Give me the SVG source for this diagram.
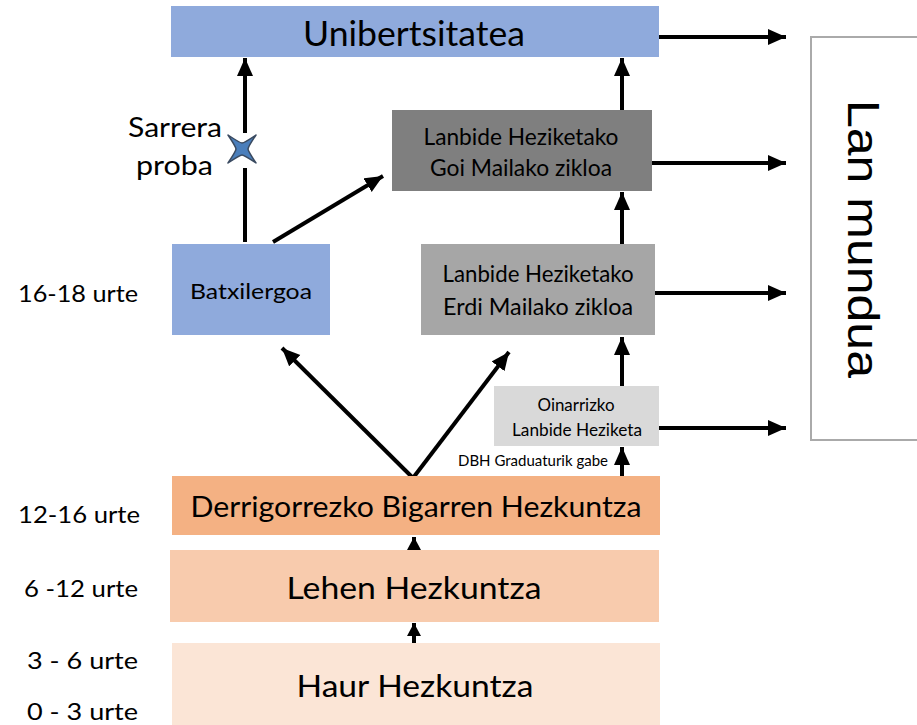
<svg xmlns="http://www.w3.org/2000/svg" width="917" height="725" viewBox="0 0 917 725">
<defs>
<marker id="ah" markerUnits="userSpaceOnUse" markerWidth="20" markerHeight="18" refX="18" refY="8" orient="auto">
<path d="M0,0 L18,8 L0,16 Z" fill="#000"/>
</marker>
<marker id="ahs" markerUnits="userSpaceOnUse" markerWidth="16" markerHeight="16" refX="13" refY="7" orient="auto">
<path d="M0,0 L13,7 L0,14 Z" fill="#000"/>
</marker>
<style>
text{font-family:Lato,"Liberation Sans",sans-serif;fill:#000}
.c{text-anchor:middle}
.ln{stroke:#000;stroke-width:4;fill:none}
.lbl{font-size:24px}
</style>
</defs>
<rect width="917" height="725" fill="#fff"/>

<g id="connectors">
<line class="ln" x1="245" y1="242" x2="245" y2="168"/>
<line class="ln" x1="245" y1="133" x2="245" y2="58" marker-end="url(#ah)"/>
<line class="ln" x1="273" y1="242" x2="383" y2="176" marker-end="url(#ah)"/>
<line class="ln" x1="622" y1="110" x2="622" y2="58" marker-end="url(#ah)"/>
<line class="ln" x1="622" y1="244" x2="622" y2="192" marker-end="url(#ah)"/>
<line class="ln" x1="622" y1="386" x2="622" y2="337" marker-end="url(#ah)"/>
<line class="ln" x1="622" y1="478" x2="622" y2="447" marker-end="url(#ah)"/>
<line class="ln" x1="659" y1="37" x2="786" y2="37" marker-end="url(#ah)"/>
<line class="ln" x1="652" y1="163" x2="786" y2="163" marker-end="url(#ah)"/>
<line class="ln" x1="655" y1="293" x2="786" y2="293" marker-end="url(#ah)"/>
<line class="ln" x1="659" y1="428" x2="786" y2="428" marker-end="url(#ah)"/>
<line class="ln" x1="413" y1="478" x2="282" y2="348" marker-end="url(#ah)"/>
<line class="ln" x1="413" y1="478" x2="509" y2="352" marker-end="url(#ah)"/>
<line class="ln" x1="414" y1="550" x2="414" y2="537" marker-end="url(#ahs)"/>
<line class="ln" x1="414" y1="643" x2="414" y2="623" marker-end="url(#ahs)"/>
</g>

<g id="star">
<path d="M228,135 Q240,143 242,143 Q244,143 256,135 Q248,147 248,149 Q248,151 256,163 Q244,155 242,155 Q240,155 228,163 Q236,151 236,149 Q236,147 228,135 Z" fill="#4a7ebb" stroke="#3a4a60" stroke-width="1.5" stroke-linejoin="round"/>
</g>

<g id="unibertsitatea">
<rect x="171" y="6" width="488" height="51" fill="#8faadc"/>
<text class="c" x="414" y="46" font-size="35" textLength="222" lengthAdjust="spacingAndGlyphs">Unibertsitatea</text>
</g>

<g id="lan-mundua">
<rect x="811" y="37" width="110" height="403" fill="#fff" stroke="#aaaaaa" stroke-width="2"/>
<text class="c" transform="translate(848,239) rotate(90)" x="0" y="0" font-size="44" style="font-family:'Liberation Sans',Arial,sans-serif" textLength="278" lengthAdjust="spacingAndGlyphs">Lan mundua</text>
</g>

<g id="goi-mailako">
<rect x="392" y="110" width="260" height="81" fill="#7f7f7f"/>
<text class="c" x="521" y="145" font-size="23" fill="#1a1a1a" textLength="195" lengthAdjust="spacingAndGlyphs">Lanbide Heziketako</text>
<text class="c" x="521" y="176" font-size="23" fill="#1a1a1a" textLength="182" lengthAdjust="spacingAndGlyphs">Goi Mailako zikloa</text>
</g>

<g id="batxilergoa">
<rect x="172" y="244" width="158" height="91" fill="#8faadc"/>
<text class="c" x="251" y="299" font-size="21.5" textLength="122" lengthAdjust="spacingAndGlyphs">Batxilergoa</text>
</g>

<g id="erdi-mailako">
<rect x="421" y="244" width="234" height="91" fill="#a6a6a6"/>
<text class="c" x="538" y="282" font-size="22.5" fill="#1a1a1a" textLength="191" lengthAdjust="spacingAndGlyphs">Lanbide Heziketako</text>
<text class="c" x="538" y="315" font-size="22.5" fill="#1a1a1a" textLength="190" lengthAdjust="spacingAndGlyphs">Erdi Mailako zikloa</text>
</g>

<g id="oinarrizko">
<rect x="494" y="386" width="165" height="60" fill="#d9d9d9"/>
<text class="c" x="576" y="411" font-size="17.5" fill="#262626" textLength="77" lengthAdjust="spacingAndGlyphs">Oinarrizko</text>
<text class="c" x="577" y="436" font-size="17.5" fill="#262626" textLength="130" lengthAdjust="spacingAndGlyphs">Lanbide Heziketa</text>
</g>

<g id="dbh-label">
<text x="458" y="466" font-size="15" textLength="150" lengthAdjust="spacingAndGlyphs">DBH Graduaturik gabe</text>
</g>

<g id="derrigorrezko">
<rect x="172" y="476" width="488" height="59" fill="#f4b183"/>
<text class="c" x="416" y="517" font-size="29" textLength="451" lengthAdjust="spacingAndGlyphs">Derrigorrezko Bigarren Hezkuntza</text>
</g>

<g id="lehen">
<rect x="170" y="550" width="489" height="72" fill="#f8cbad"/>
<text class="c" x="414" y="599" font-size="30" textLength="255" lengthAdjust="spacingAndGlyphs">Lehen Hezkuntza</text>
</g>

<g id="haur">
<rect x="172" y="643" width="488" height="82" fill="#fbe5d6"/>
<text class="c" x="415" y="697" font-size="30" textLength="237" lengthAdjust="spacingAndGlyphs">Haur Hezkuntza</text>
</g>

<g id="labels">
<text x="128" y="137" font-size="27" textLength="94" lengthAdjust="spacingAndGlyphs">Sarrera</text>
<text x="136" y="175" font-size="27" textLength="77" lengthAdjust="spacingAndGlyphs">proba</text>
<text class="lbl" x="18" y="302" textLength="120" lengthAdjust="spacingAndGlyphs">16-18 urte</text>
<text class="lbl" x="18" y="523" textLength="122" lengthAdjust="spacingAndGlyphs">12-16 urte</text>
<text class="lbl" x="24" y="597" textLength="114" lengthAdjust="spacingAndGlyphs">6 -12 urte</text>
<text class="lbl" x="27" y="669" textLength="111" lengthAdjust="spacingAndGlyphs">3 - 6  urte</text>
<text class="lbl" x="27" y="720" textLength="111" lengthAdjust="spacingAndGlyphs">0 - 3 urte</text>
</g>
</svg>
